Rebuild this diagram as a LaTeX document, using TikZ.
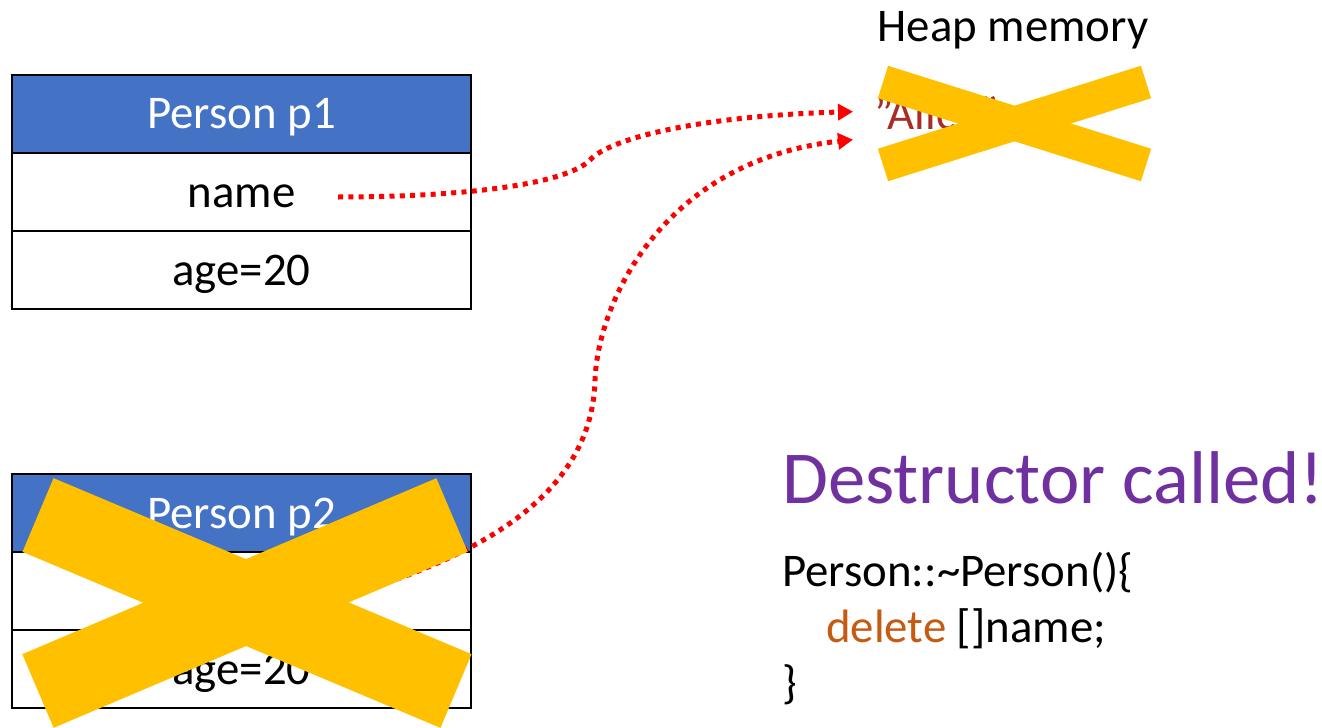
\documentclass[tikz,border=0pt]{standalone}
\usepackage{fontspec}
\setmainfont{Carlito}
\usetikzlibrary{arrows.meta,calc}

\definecolor{hdrblue}{HTML}{4472C4}
\definecolor{crossyellow}{HTML}{FFC000}
\definecolor{titlepurple}{HTML}{7030A0}
\definecolor{kwbrown}{HTML}{C55A11}
\definecolor{heapred}{RGB}{168,44,40}
\definecolor{ptrred}{HTML}{FF0000}

\tikzset{
  cell/.style={draw=black, line width=2.5bp, minimum width=459bp, minimum height=78bp,
    inner sep=0pt, text height=30bp, text depth=0pt, font=\fontsize{47}{56}\selectfont},
  hdrcell/.style={cell, fill=hdrblue, text=white},
  bodycell/.style={cell, fill=white, text=black},
  label/.style={inner sep=0pt, font=\fontsize{47}{56}\selectfont},
  pointer/.style={draw=ptrred, line width=5bp, dash pattern=on 5bp off 5.3bp,
    -{Triangle[length=15bp,width=16bp]}},
  crossbar/.style={draw=crossyellow, line cap=butt},
}

\begin{document}
\begin{tikzpicture}[x=1bp, y=-1bp]
  \useasboundingbox (0,0) rectangle (1322,727);
  \clip (0,0) rectangle (1322,727);

  % object p1
  \node[hdrcell]  (p1head) at (241.5,114) {Person p1};
  \node[bodycell] (p1name) at (241.5,192) {name};
  \node[bodycell] (p1age)  at (241.5,270) {age=20};

  % object p2
  \node[hdrcell]  (p2head) at (241.5,513) {Person p2};
  \node[bodycell] (p2name) at (241.5,591) {name};
  \node[bodycell] (p2age)  at (241.5,669) {age=20};

  % heap
  \node[label, anchor=base] (heap) at (1013,42) {Heap memory};
  \node[label, anchor=base west, text=heapred] (alice) at (874,130)
       {\symbol{34}Alice\symbol{34}};

  % destructor text
  \node[inner sep=0pt, anchor=base west, text=titlepurple,
        font=\fontsize{75}{90}\selectfont] (dtitle) at (782,503) {Destructor called!};
  \node[label, anchor=base west] (code1) at (782,586) {Person::\textasciitilde Person()\{};
  \node[label, anchor=base west] (code2) at (826,642) {\textcolor{kwbrown}{delete} []name;};
  \node[label, anchor=base west] (code3) at (782,698) {\}};

  % pointer ends
  \coordinate (s1) at ($(p1name.center)+(96.5,5)$);
  \coordinate (s2) at ($(p2name.center)+(96.5,7)$);
  \coordinate (tipA) at ($(alice.west)+(-21,-2)$);
  \coordinate (tipB) at ($(alice.west)+(-21,26)$);

  % pointers into the heap
  \draw[pointer] (s1) .. controls (460,197) and (565,185) .. (590,160)
                      .. controls (610,138) and (700,116) .. (tipA);
  \draw[pointer] (s2) .. controls (470,560) and (592,500) .. (595,380)
                      .. controls (598,300) and (665,160) .. (tipB);

  % crossed-out p2
  \draw[crossbar, line width=80bp] (38,515) -- (456,691);
  \draw[crossbar, line width=80bp] (38,691) -- (452,515);

  % crossed-out heap string
  \draw[crossbar, line width=34bp] (883,82) -- (1146,165);
  \draw[crossbar, line width=34bp] (883,165) -- (1146,82);
\end{tikzpicture}
\end{document}
